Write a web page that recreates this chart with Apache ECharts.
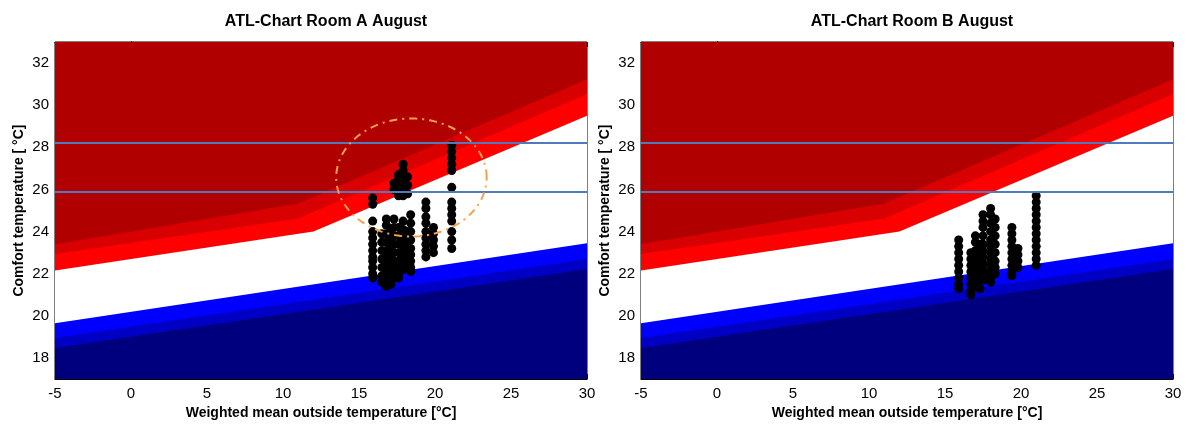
<!DOCTYPE html>
<html>
<head>
<meta charset="utf-8">
<script src="https://cdn.jsdelivr.net/npm/echarts@6/dist/echarts.min.js"></script>
<style>
  html, body { margin: 0; padding: 0; background: #fff; }
  #chart { width: 1186px; height: 425px; }
</style>
</head>
<body>
<div id="chart"></div>
<script>
// ATL comfort band limits [Te, Tcomf]
var upper65 = [[-5, 23.4], [11, 25.34], [30, 31.23]];
var upper80 = [[-5, 22.94], [11, 24.62], [30, 30.53]];
var upper90 = [[-5, 22.15], [12, 24.0], [30, 29.5]];
var lower90 = [[-5, 19.65], [30, 23.45]];
var lower80 = [[-5, 18.95], [30, 22.7]];
var lower65 = [[-5, 18.48], [30, 22.23]];
var limitLines = [28.2, 25.9];

// measured comfort temperatures, one column per day (Te)
var roomA_te = [15.9, 16.5, 16.8, 17.1, 17.3, 17.6, 17.9, 18.2, 18.4, 19.4, 19.9, 21.1];
var roomA_tc = [
  [25.6, 25.3, 24.5, 24.0, 23.7, 23.4, 23.1, 22.8, 22.6, 22.3, 22.0, 21.8],
  [23.9, 23.5, 23.1, 22.7, 22.3, 21.9, 21.6],
  [24.6, 24.3, 23.9, 23.5, 23.1, 22.8, 22.5, 22.2, 21.9, 21.6, 21.4],
  [24.0, 23.6, 23.2, 22.9, 22.6, 22.3, 22.0, 21.7, 21.5],
  [26.3, 26.0, 24.6, 24.2, 23.8, 23.4, 23.0, 22.6, 22.2, 21.9],
  [26.7, 26.5, 26.2, 25.9, 25.7, 24.2, 23.8, 23.4, 23.0, 22.6, 22.3, 22.0, 21.8],
  [27.2, 26.9, 26.6, 26.3, 26.0, 25.7, 24.5, 24.1, 23.7, 23.3, 23.0, 22.7, 22.4, 22.2],
  [26.6, 26.2, 25.8, 24.0, 23.6, 23.2, 22.8, 22.4],
  [24.8, 24.4, 24.0, 23.6, 23.2, 22.9, 22.6, 22.3, 22.1],
  [25.4, 25.1, 24.7, 24.4, 24.0, 23.7, 23.4, 23.1, 22.8],
  [24.2, 23.9, 23.6, 23.3, 23.0],
  [28.1, 27.8, 27.5, 27.2, 26.9, 26.1, 25.4, 25.1, 24.8, 24.5, 24.0, 23.6, 23.2]
];
var roomB_te = [15.9, 16.7, 17.0, 17.3, 17.5, 18.0, 18.3, 19.4, 19.8, 21.0];
var roomB_tc = [
  [23.6, 23.3, 23.0, 22.7, 22.4, 22.1, 21.8, 21.5, 21.3],
  [23.0, 22.7, 22.4, 22.1, 21.8, 21.5, 21.2, 21.0],
  [23.8, 23.5, 23.1, 22.8, 22.5, 22.2, 21.9, 21.6, 21.4],
  [23.4, 23.0, 22.6, 22.2, 21.8, 21.3],
  [24.8, 24.5, 24.2, 23.8, 23.4, 23.1, 22.8, 22.5, 22.2, 21.9, 21.7],
  [25.1, 24.8, 24.4, 24.0, 23.6, 23.3, 23.0, 22.7, 22.4, 22.1, 21.8, 21.6],
  [24.6, 24.2, 23.8, 23.4, 23.0, 22.6, 22.3, 22.0],
  [24.2, 23.9, 23.6, 23.3, 23.0, 22.7, 22.4, 22.1, 21.9],
  [23.2, 22.9, 22.6, 22.3],
  [25.7, 25.4, 25.1, 24.8, 24.5, 24.2, 23.9, 23.6, 23.3, 23.0, 22.7, 22.4]
];

function pairs(te, tc) {
  var out = [];
  te.forEach(function (t, i) {
    tc[i].forEach(function (v) { out.push([t, v]); });
  });
  return out;
}

// highlight ellipse in room A (data units)
var ring = { cx: 18.45, cy: 26.57, rx: 4.95, ry: 2.8 };
var ringPts = [];
for (var k = 0; k <= 120; k++) {
  var a = k / 120 * Math.PI * 2;
  ringPts.push([ring.cx + ring.rx * Math.cos(a), ring.cy + ring.ry * Math.sin(a)]);
}

var font = 'Liberation Sans, Arial, sans-serif';
var bands = [
  { d: [[-5, 33], [30, 33]], c: '#b00000' },
  { d: upper65, c: '#d80000' },
  { d: upper80, c: '#ff0000' },
  { d: upper90, c: '#ffffff' },
  { d: lower90, c: '#0000ff' },
  { d: lower80, c: '#0000c4' },
  { d: lower65, c: '#00007f' }
];

var grids = [
  { left: 55, top: 42, width: 532, height: 340, show: true, borderColor: '#000', borderWidth: 1 },
  { left: 641, top: 42, width: 532, height: 340, show: true, borderColor: '#000', borderWidth: 1 }
];
var xAxes = [], yAxes = [], series = [];
[0, 1].forEach(function (g) {
  xAxes.push({
    gridIndex: g, type: 'value', min: -5, max: 30, interval: 5,
    name: 'Weighted mean outside temperature [°C]', nameLocation: 'middle', nameGap: 21,
    nameTextStyle: { fontFamily: font, fontWeight: 'bold', fontSize: 14, color: '#000' },
    axisLine: { lineStyle: { color: '#000' } },
    axisTick: { inside: true, length: 5, lineStyle: { color: '#000' } },
    axisLabel: { fontFamily: font, fontSize: 15, color: '#000', margin: 7 },
    splitLine: { show: false }
  });
  xAxes.push({
    gridIndex: g, type: 'value', min: -5, max: 30, interval: 5, position: 'top',
    axisLine: { lineStyle: { color: '#000' } },
    axisTick: { inside: true, length: 5, lineStyle: { color: '#000' } },
    axisLabel: { show: false }, splitLine: { show: false }
  });
  // no interval here: min 17 is odd, so let ECharts place ticks on even values
  yAxes.push({
    gridIndex: g, type: 'value', min: 17, max: 33, splitNumber: 8,
    name: 'Comfort temperature [ °C]', nameLocation: 'middle', nameGap: 29,
    nameTextStyle: { fontFamily: font, fontWeight: 'bold', fontSize: 14, color: '#000' },
    axisLine: { show: true, lineStyle: { color: '#000' } },
    axisTick: { show: true, inside: true, length: 5, lineStyle: { color: '#000' } },
    axisLabel: {
      fontFamily: font, fontSize: 15, color: '#000', margin: 6,
      showMinLabel: false, showMaxLabel: false
    },
    splitLine: { show: false }
  });
  yAxes.push({
    gridIndex: g, type: 'value', min: 17, max: 33, splitNumber: 8, position: 'right',
    axisLine: { show: true, lineStyle: { color: '#000' } },
    axisTick: { show: true, inside: true, length: 5, lineStyle: { color: '#000' } },
    axisLabel: { show: false }, splitLine: { show: false }
  });

  bands.forEach(function (b) {
    series.push({
      type: 'line', xAxisIndex: g * 2, yAxisIndex: g * 2, data: b.d, z: 1,
      symbol: 'none', silent: true, lineStyle: { width: 0 },
      areaStyle: { origin: 'start', color: b.c, opacity: 1 }
    });
  });
  series.push({
    type: 'scatter', xAxisIndex: g * 2, yAxisIndex: g * 2, z: 3,
    data: g === 0 ? pairs(roomA_te, roomA_tc) : pairs(roomB_te, roomB_tc),
    symbol: 'circle', symbolSize: 9, itemStyle: { color: '#000', opacity: 1 }
  });
  series.push({
    type: 'line', xAxisIndex: g * 2, yAxisIndex: g * 2, data: [], z: 4,
    markLine: {
      silent: true, symbol: 'none', label: { show: false },
      lineStyle: { color: '#4f7bbd', width: 2, type: 'solid' },
      data: limitLines.map(function (v) { return { yAxis: v }; })
    }
  });
});

series.push({
  type: 'line', xAxisIndex: 0, yAxisIndex: 0, data: ringPts, z: 5,
  symbol: 'none', silent: true,
  lineStyle: { color: '#f5a04a', width: 2, type: [8, 5, 2, 5] }
});

var chart = echarts.init(document.getElementById('chart'));
chart.setOption({
  animation: false,
  backgroundColor: '#fff',
  title: [
    { text: 'ATL-Chart Room A August', left: 321, top: 9, textAlign: 'center',
      textStyle: { fontFamily: font, fontWeight: 'bold', fontSize: 16, color: '#000' } },
    { text: 'ATL-Chart Room B August', left: 907, top: 9, textAlign: 'center',
      textStyle: { fontFamily: font, fontWeight: 'bold', fontSize: 16, color: '#000' } }
  ],
  grid: grids,
  xAxis: xAxes,
  yAxis: yAxes,
  series: series
});
</script>
</body>
</html>
